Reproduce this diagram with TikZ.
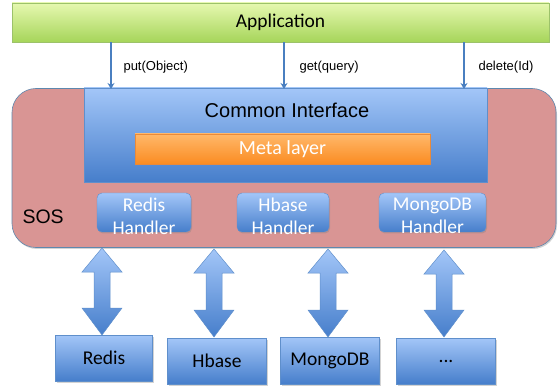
\documentclass[tikz,border=0pt]{standalone}
\usepackage{fontspec}
\setmainfont{Carlito}
\newfontfamily\arialf{Liberation Sans}
\usetikzlibrary{shadows,calc,arrows.meta}
\definecolor{gtop}{HTML}{E6F8B0}
\definecolor{gbot}{HTML}{A6D55A}
\definecolor{gline}{HTML}{9CC26A}
\definecolor{btop}{HTML}{A3C6F8}
\definecolor{bbot}{HTML}{467ECB}
\definecolor{bline}{HTML}{5F8FCB}
\definecolor{otop}{HTML}{FFB86A}
\definecolor{obot}{HTML}{FB8C22}
\definecolor{oline}{HTML}{E98A3A}
\definecolor{sosfill}{HTML}{D99594}
\definecolor{sosline}{HTML}{5E88AE}
\definecolor{arrowc}{HTML}{4A7FC0}
\tikzset{
  shad/.style={drop shadow={opacity=0.35,shadow xshift=1pt,shadow yshift=-1.5pt}},
  appbox/.style={draw=gline,top color=gtop,bottom color=gbot,shad,inner sep=0pt},
  bluebox/.style={draw=bline,top color=btop,bottom color=bbot,inner sep=0pt},
  metabox/.style={draw=oline,top color=otop,bottom color=obot,shad,inner sep=0pt},
  handler/.style={draw=bline,top color=btop,bottom color=bbot,rounded corners=5pt,shad,inner sep=0pt},
  htext/.style={text=white,font=\fontsize{19.5}{23}\selectfont,align=center,inner sep=0pt},
  store/.style={draw=bline,top color=btop,bottom color=bbot,shad,inner sep=0pt,font=\fontsize{19.5}{22}\selectfont},
  call/.style={draw=arrowc,line width=1.6pt,-{Stealth[length=6pt,width=7pt]}},
  callabel/.style={font=\arialf\fontsize{13}{15}\selectfont,anchor=west},
  bigarr/.style={draw=bline,top color=btop,bottom color=bbot,line width=0.5pt}
}
\newcommand{\dblarr}[3]{% x, ytop, ybot
  \path[bigarr] (#1,#2) -- (#1+20,#2+24) -- (#1+8,#2+24) -- (#1+8,#3-27) -- (#1+20,#3-27)
     -- (#1,#3) -- (#1-20,#3-27) -- (#1-8,#3-27) -- (#1-8,#2+24) -- (#1-20,#2+24) -- cycle;}
\begin{document}
\begin{tikzpicture}[x=1pt,y=-1pt]
\useasboundingbox (0,0) rectangle (559,387);
% Application
\node[appbox,minimum width=537pt,minimum height=39pt,font=\fontsize{19.5}{22}\selectfont] (app) at (280.5,22.5) {Application};
% SOS container
\node[draw=sosline,fill=sosfill,rounded corners=24pt,minimum width=544pt,minimum height=159pt,shad,line width=0.6pt] (sos) at (284,168) {};
\node[font=\arialf\fontsize{19.5}{22}\selectfont,anchor=west] (soslabel) at (19,217) {SOS};
% Common interface
\node[bluebox,minimum width=403pt,minimum height=94pt] (ci) at (285.5,135) {};
\node[font=\arialf\fontsize{20}{22}\selectfont] (citext) at (287,110) {Common Interface};
\node[metabox,minimum width=295pt,minimum height=30pt,text=white,font=\fontsize{20}{22}\selectfont] (meta) at (282.5,149) {Meta layer};
% calls
\coordinate (c1) at (111,89);
\coordinate (c2) at (284,89);
\coordinate (c3) at (464,89);
\draw[call] (app.south -| c1) -- (c1);
\draw[call] (app.south -| c2) -- (c2);
\draw[call] (app.south -| c3) -- (c3);
\node[callabel] (l1) at (120,67) {put(Object)};
\node[callabel] (l2) at (296,67) {get(query)};
\node[callabel] (l3) at (475,67) {delete(Id)};
% handlers
\node[handler,minimum width=94pt,minimum height=39pt] (h1) at (144,212.5) {};
\node[handler,minimum width=92pt,minimum height=39pt] (h2) at (283,212.5) {};
\node[handler,minimum width=107pt,minimum height=39pt] (h3) at (432.5,212.5) {};
\node[htext] (h1t) at ([yshift=-3.5pt]h1.center) {Redis\\Handler};
\node[htext] (h2t) at ([yshift=-3.5pt]h2.center) {Hbase\\Handler};
\node[htext] (h3t) at ([yshift=-3.5pt]h3.center) {MongoDB\\Handler};
% stores
\node[store,minimum width=97pt,minimum height=46pt] (s1) at (104,358) {Redis};
\node[store,minimum width=99pt,minimum height=46pt] (s2) at (217,361) {Hbase};
\node[store,minimum width=99pt,minimum height=47pt] (s3) at (330,360.5) {MongoDB};
\node[store,minimum width=99pt,minimum height=46pt] (s4) at (446,361) {...};
% double arrows
\dblarr{102}{248}{335}
\dblarr{214}{249}{337}
\dblarr{328}{249}{337}
\dblarr{444}{250}{337}
\end{tikzpicture}
\end{document}
